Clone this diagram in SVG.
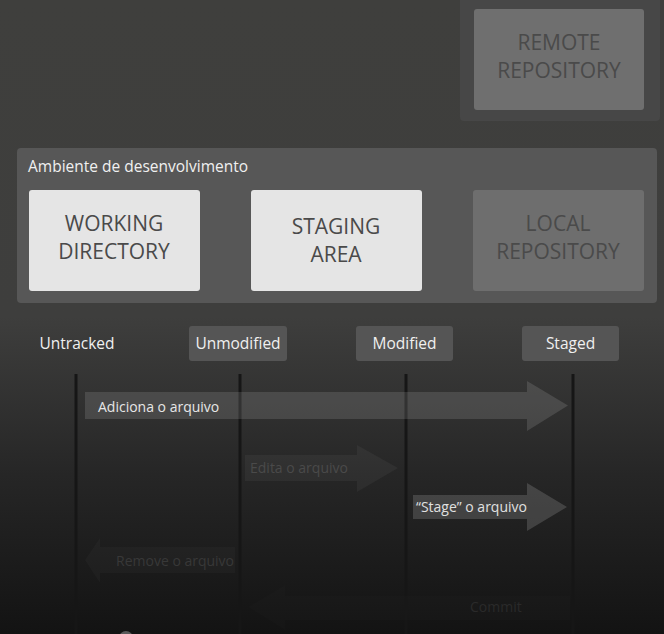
<svg xmlns="http://www.w3.org/2000/svg" width="664" height="634" viewBox="0 0 664 634">
<defs>
<linearGradient id="bg" x1="0" y1="0" x2="0" y2="1">
<stop offset="0" stop-color="#3f3f3d"/>
<stop offset="0.5" stop-color="#3e3e3d"/>
<stop offset="0.75" stop-color="#262626"/>
<stop offset="1" stop-color="#131313"/>
</linearGradient>
<style>
text{font-family:"Open Sans","Liberation Sans",sans-serif}
.big{font-size:21px;text-anchor:middle;fill:#4a4a4a}
.state{font-size:15.5px;fill:#f0f0f0;text-anchor:middle}
.lbl{font-size:14px}
.vline{stroke:#161616;stroke-width:3}
</style>
</defs>
<rect width="664" height="634" fill="url(#bg)"/>

<g id="remote">
<rect x="460" y="-10" width="200" height="131" rx="4" fill="#474747"/>
<rect x="474" y="9" width="170" height="101" rx="3" fill="#6f6f6f"/>
<text class="big" x="559" y="50">REMOTE</text>
<text class="big" x="559" y="78">REPOSITORY</text>
</g>

<g id="ambiente">
<rect x="17" y="148" width="640" height="155" rx="4" fill="#575757"/>
<text x="28" y="172" font-size="15.5" fill="#f0f0f0">Ambiente de desenvolvimento</text>
</g>

<g id="working">
<rect x="29" y="190" width="171" height="101" rx="3" fill="#e5e5e5"/>
<text class="big" x="114" y="231">WORKING</text>
<text class="big" x="114" y="259">DIRECTORY</text>
</g>

<g id="staging">
<rect x="251" y="190" width="171" height="101" rx="3" fill="#e5e5e5"/>
<text class="big" x="336" y="234">STAGING</text>
<text class="big" x="336" y="262">AREA</text>
</g>

<g id="local">
<rect x="473" y="190" width="171" height="101" rx="3" fill="#6e6e6e"/>
<text class="big" x="558" y="231" fill="#4f4f4f">LOCAL</text>
<text class="big" x="558" y="259" fill="#4f4f4f">REPOSITORY</text>
</g>

<g id="untracked">
<text class="state" x="77" y="349">Untracked</text>
</g>
<g id="unmodified">
<rect x="189" y="326" width="98" height="35" rx="3" fill="#555555"/>
<text class="state" x="238" y="349">Unmodified</text>
</g>
<g id="modified">
<rect x="356" y="326" width="97" height="35" rx="3" fill="#555555"/>
<text class="state" x="404.5" y="349">Modified</text>
</g>
<g id="staged">
<rect x="522" y="326" width="97" height="35" rx="3" fill="#555555"/>
<text class="state" x="570.5" y="349">Staged</text>
</g>

<g id="lifelines">
<line class="vline" x1="76" y1="374" x2="76" y2="634"/>
<line class="vline" x1="240" y1="374" x2="240" y2="634"/>
<line class="vline" x1="406" y1="374" x2="406" y2="634"/>
<line class="vline" x1="573" y1="374" x2="573" y2="634"/>
</g>

<g id="connectors">
<g id="adiciona">
<path d="M85 392 H527 V381 L568 405.5 L527 431 V419 H85 Z" fill="#ffffff" fill-opacity="0.12"/>
<text class="lbl" x="98" y="412" fill="#e6e6e6">Adiciona o arquivo</text>
</g>
<g id="edita">
<path d="M245 455 H357 V445 L398 468 L357 492 V481 H245 Z" fill="#ffffff" fill-opacity="0.045"/>
<text class="lbl" x="250" y="473" fill="#4a4a4a">Edita o arquivo</text>
</g>
<g id="stage">
<path d="M413 495 H527 V483 L567 507 L527 531 V519 H413 Z" fill="#ffffff" fill-opacity="0.15"/>
<text class="lbl" x="416" y="512" fill="#e0e0e0">“Stage” o arquivo</text>
</g>
<g id="remove">
<path d="M235 547 H100 V538 L85 560 L100 583 V573 H235 Z" fill="#ffffff" fill-opacity="0.022"/>
<text class="lbl" x="116" y="566" fill="#383838">Remove o arquivo</text>
</g>
<g id="commit">
<path d="M570 596 H285 V585 L248 607 L285 630 V620 H570 Z" fill="#ffffff" fill-opacity="0.012"/>
<text class="lbl" x="470" y="612" fill="#2a2a2a">Commit</text>
</g>
</g>

<circle cx="126" cy="638" r="7" fill="#5a5a5a"/>
</svg>
